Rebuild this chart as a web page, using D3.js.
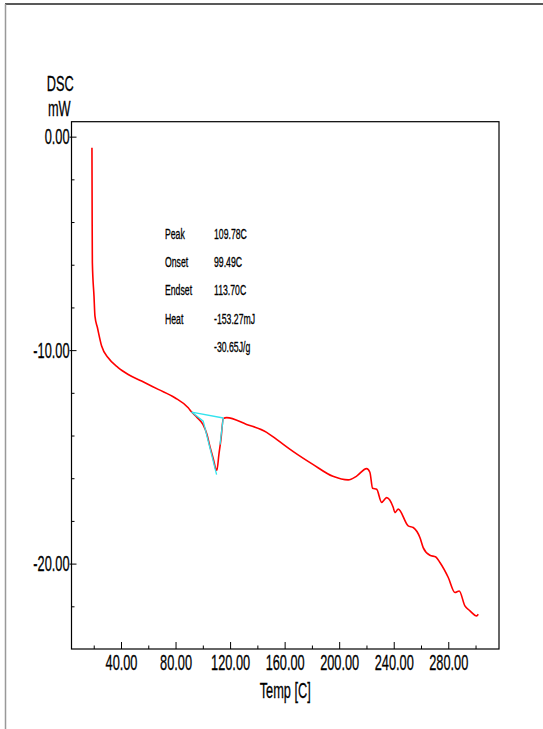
<!DOCTYPE html>
<html>
<head>
<meta charset="utf-8">
<script src="https://cdn.jsdelivr.net/npm/d3@7/dist/d3.min.js"></script>
<style>
  html, body { margin: 0; padding: 0; background: #fff; }
  text { font-family: "Liberation Sans", Arial, sans-serif; fill: #000; stroke: #000; stroke-width: 0.3; }
</style>
</head>
<body>
<div class="dsc"></div>
<script>
// DSC trace (temperature in C, heat flow in mW)
const temps = [18.7, 18.85, 19.0, 20.2, 20.9, 22.7, 25.8, 30.6, 37.9, 45.3, 55.1, 67.3, 79.5, 89.3,
  91.8, 95.7, 100.1, 103.0, 105.2, 107.8, 109.6, 110.3, 111.8, 113.3, 115.0, 117.5, 132.1, 146.8,
  154.1, 166.1, 180.7, 195.4, 206.6, 212.8, 220.1, 222.5, 224.5, 227.5, 231.1, 234.8, 239.6, 240.9,
  243.3, 250.6, 254.3, 259.2, 261.6, 266.5, 270.9, 273.9, 280.0, 284.9, 288.0, 292.2, 295.9, 300.8, 302.0];
const dscValues = [-0.52, -3.88, -5.90, -7.47, -8.41, -8.94, -9.81, -10.36, -10.82, -11.14, -11.45, -11.84, -12.23, -12.70,
  -12.90, -13.15, -13.48, -13.94, -14.51, -15.12, -15.58, -15.63, -14.88, -14.18, -13.21, -13.16, -13.48, -13.85,
  -14.18, -14.74, -15.35, -15.91, -16.08, -15.90, -15.55, -15.72, -16.47, -16.52, -17.13, -16.91, -17.36, -17.61,
  -17.45, -18.23, -18.31, -18.78, -19.25, -19.61, -19.69, -19.95, -20.65, -21.35, -21.28, -21.98, -22.21, -22.45, -22.37];

// peak analysis construction lines (cyan)
const baselineT = [91.8, 115.0];
const baselineV = [-12.90, -13.18];
const leftTangentT = [91.8, 100.3, 110.1];
const leftTangentV = [-12.90, -13.33, -15.83];
const rightTangentT = [112.6, 115.0];
const rightTangentV = [-14.43, -13.18];

const xMajorTicks = [40, 80, 120, 160, 200, 240, 280];
const xMinorTicks = [20, 60, 100, 140, 180, 220, 260, 300];
const yMajorTicks = [0, -10, -20];
const yMinorTicks = [-2, -4, -6, -8, -12, -14, -16, -18, -22];

const infoLabels = ['Peak', 'Onset', 'Endset', 'Heat', ''];
const infoValues = ['109.78C', '99.49C', '113.70C', '-153.27mJ', '-30.65J/g'];

const width = 543, height = 729;
const box = {left: 71.5, right: 499, top: 121.7, bottom: 649};
const squeeze = 0.58;

const svg = d3.select('.dsc')
  .append('svg')
  .attr('width', width)
  .attr('height', height);

// page frame
svg.append('line')
  .attr('x1', 5).attr('x2', width).attr('y1', 4).attr('y2', 4)
  .attr('stroke', '#222').attr('stroke-width', 1.5);
svg.append('line')
  .attr('x1', 5.5).attr('x2', 5.5).attr('y1', 4).attr('y2', height)
  .attr('stroke', '#999').attr('stroke-width', 1.5);

const x = d3.scaleLinear().domain([3.7, 317.2]).range([box.left, box.right]);
const y = d3.scaleLinear().domain([-24.0, 0.70]).range([box.bottom, box.top]);

// minor ticks first, no labels
svg.append('g')
  .attr('transform', `translate(0, ${box.bottom})`)
  .call(d3.axisBottom(x).tickValues(xMinorTicks).tickSize(-3.5).tickSizeOuter(0).tickFormat(''))
  .call(g => g.select('.domain').remove());

svg.append('g')
  .attr('transform', `translate(${box.left}, 0)`)
  .call(d3.axisLeft(y).tickValues(yMinorTicks).tickSize(-3).tickSizeOuter(0).tickFormat(''))
  .call(g => g.select('.domain').remove());

const xAxis = svg.append('g')
  .attr('transform', `translate(0, ${box.bottom})`)
  .call(d3.axisBottom(x).tickValues(xMajorTicks).tickSize(-7).tickSizeOuter(0).tickFormat(d => d.toFixed(2)));
xAxis.select('.domain').remove();
xAxis.selectAll('.tick line').attr('stroke', '#000');
xAxis.selectAll('text')
  .attr('y', 21).attr('dy', 0)
  .attr('font-size', 22)
  .attr('transform', `scale(${squeeze},1)`);

const yAxis = svg.append('g')
  .attr('transform', `translate(${box.left}, 0)`)
  .call(d3.axisLeft(y).tickValues(yMajorTicks).tickSize(-5).tickSizeOuter(0).tickFormat(d => d.toFixed(2)));
yAxis.select('.domain').remove();
yAxis.selectAll('.tick line').attr('x1', -2).attr('stroke', '#000');
yAxis.selectAll('text')
  .attr('x', -2 / squeeze).attr('dy', 7)
  .attr('font-size', 22)
  .attr('transform', `scale(${squeeze},1)`);

// plot box
svg.append('rect')
  .attr('x', box.left).attr('y', box.top)
  .attr('width', box.right - box.left).attr('height', box.bottom - box.top)
  .attr('fill', 'none').attr('stroke', '#000').attr('stroke-width', 1.2);

function squeezedText(str, px, py, size, sx, anchor) {
  svg.append('text')
    .attr('transform', `translate(${px}, ${py}) scale(${sx},1)`)
    .attr('font-size', size)
    .attr('text-anchor', anchor || 'start')
    .text(str);
}

squeezedText('DSC', 46.7, 90.5, 22, squeeze);
squeezedText('mW', 48, 115.5, 22, squeeze);
squeezedText('Temp [C]', (box.left + box.right) / 2, 697.5, 22, squeeze, 'middle');

const line = d3.line().x(d => x(d[0])).y(d => y(d[1]));
const smoothLine = d3.line().x(d => x(d[0])).y(d => y(d[1])).curve(d3.curveMonotoneX);

svg.append('path')
  .datum(d3.zip(temps, dscValues))
  .attr('d', smoothLine)
  .attr('fill', 'none')
  .attr('stroke', '#ff0000')
  .attr('stroke-width', 1.6)
  .attr('stroke-linejoin', 'round');

[[baselineT, baselineV], [leftTangentT, leftTangentV], [rightTangentT, rightTangentV]].forEach(([t, v]) => {
  svg.append('path')
    .datum(d3.zip(t, v))
    .attr('d', line)
    .attr('fill', 'none')
    .attr('stroke', '#33e3ee')
    .attr('stroke-width', 1.3);
});

// peak report
const infoTop = 238.5, infoStep = 28.4;
infoLabels.forEach((lbl, i) => {
  if (lbl) squeezedText(lbl, 165, infoTop + i * infoStep, 14.5, 0.6);
  squeezedText(infoValues[i], 214, infoTop + i * infoStep, 14.5, 0.6);
});
</script>
</body>
</html>
